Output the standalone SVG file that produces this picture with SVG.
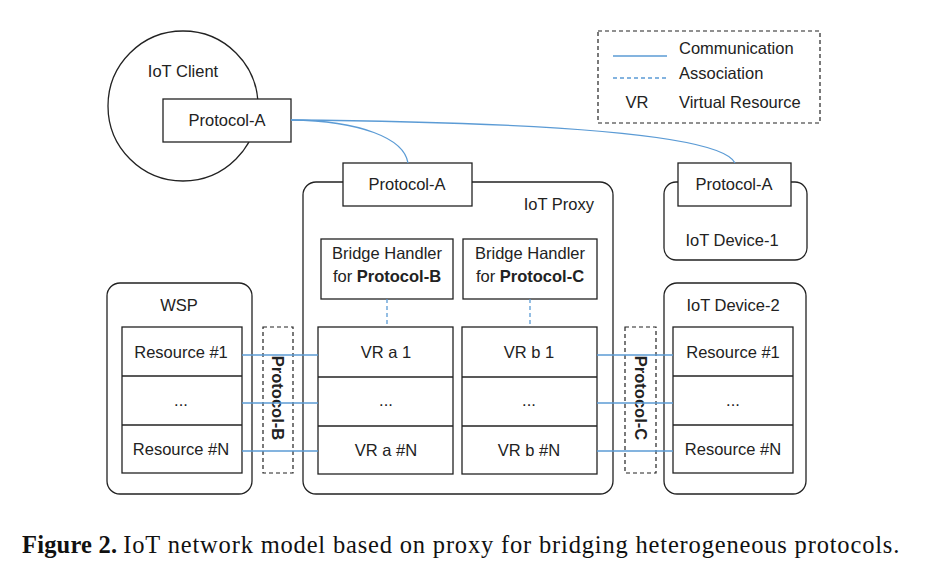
<svg xmlns="http://www.w3.org/2000/svg" width="934" height="585" viewBox="0 0 934 585">
<style>
.t{font-family:"Liberation Sans",Arial,sans-serif;font-size:16.5px;fill:#222}
.c{text-anchor:middle}
.b{font-weight:bold}
.box{fill:#fff;stroke:#222;stroke-width:1.3}
.rr{fill:#fff;stroke:#222;stroke-width:1.3}
.dash{fill:none;stroke:#222;stroke-width:1.2;stroke-dasharray:4 3}
.comm{fill:none;stroke:#5b9bd5;stroke-width:1.3}
.assoc{fill:none;stroke:#5b9bd5;stroke-width:1.3;stroke-dasharray:4 3}
.cap{font-family:"Liberation Serif","Times New Roman",serif;font-size:24.5px;fill:#111}
</style>
<rect width="934" height="585" fill="#fff"/>

<g id="legend">
<rect x="598" y="31" width="222" height="92" class="dash"/>
<line x1="613" y1="56" x2="667" y2="56" class="comm"/>
<line x1="613" y1="78" x2="667" y2="78" class="assoc"/>
<text x="679" y="54" class="t">Communication</text>
<text x="679" y="79" class="t">Association</text>
<text x="637" y="108" class="t c">VR</text>
<text x="679" y="108" class="t">Virtual Resource</text>
</g>

<g id="iot-client">
<circle cx="183" cy="106" r="75" fill="#fff" stroke="#222" stroke-width="1.3"/>
<text x="183" y="77" class="t c">IoT Client</text>
<rect x="163" y="99" width="128" height="43" class="box"/>
<text x="227" y="126" class="t c">Protocol-A</text>
</g>

<g id="iot-proxy">
<rect x="303" y="182" width="310" height="312" rx="13" class="rr"/>
<rect x="343" y="163" width="129" height="43" class="box"/>
<text x="407" y="190" class="t c">Protocol-A</text>
<text x="594" y="210" class="t" text-anchor="end">IoT Proxy</text>
<rect x="321" y="239" width="132" height="60" class="box"/>
<text x="387" y="259" class="t c">Bridge Handler</text>
<text x="387" y="282" class="t c">for <tspan class="b">Protocol-B</tspan></text>
<rect x="463" y="239" width="134" height="60" class="box"/>
<text x="530" y="259" class="t c">Bridge Handler</text>
<text x="530" y="282" class="t c">for <tspan class="b">Protocol-C</tspan></text>
<rect x="318" y="327" width="135" height="147" class="box"/>
<line x1="318" y1="377" x2="453" y2="377" stroke="#222" stroke-width="1.3"/>
<line x1="318" y1="426" x2="453" y2="426" stroke="#222" stroke-width="1.3"/>
<text x="386" y="358" class="t c">VR a 1</text>
<text x="386" y="406" class="t c" font-size="11">...</text>
<text x="386" y="456" class="t c">VR a #N</text>
<rect x="462" y="327" width="135" height="147" class="box"/>
<line x1="462" y1="377" x2="597" y2="377" stroke="#222" stroke-width="1.3"/>
<line x1="462" y1="426" x2="597" y2="426" stroke="#222" stroke-width="1.3"/>
<text x="529" y="358" class="t c">VR b 1</text>
<text x="529" y="406" class="t c" font-size="11">...</text>
<text x="529" y="456" class="t c">VR b #N</text>
</g>

<g id="iot-device-1">
<rect x="664" y="182" width="143" height="78" rx="12" class="rr"/>
<rect x="678" y="163" width="113" height="43" class="box"/>
<text x="734" y="190" class="t c">Protocol-A</text>
<text x="732" y="246" class="t c">IoT Device-1</text>
</g>

<g id="wsp">
<rect x="107" y="283" width="145" height="211" rx="13" class="rr"/>
<text x="179" y="311" class="t c">WSP</text>
<rect x="122" y="327" width="120" height="146" class="box"/>
<line x1="122" y1="376" x2="242" y2="376" stroke="#222" stroke-width="1.3"/>
<line x1="122" y1="425" x2="242" y2="425" stroke="#222" stroke-width="1.3"/>
<text x="181" y="358" class="t c">Resource #1</text>
<text x="181" y="406" class="t c" font-size="11">...</text>
<text x="181" y="455" class="t c">Resource #N</text>
</g>

<g id="protocol-b">
<rect x="263" y="327" width="30" height="146" class="dash"/>
<text transform="translate(278,398) rotate(90)" y="6" class="t c b">Protocol-B</text>
</g>

<g id="iot-device-2">
<rect x="664" y="283" width="142" height="211" rx="13" class="rr"/>
<text x="733" y="311" class="t c">IoT Device-2</text>
<rect x="673" y="327" width="120" height="146" class="box"/>
<line x1="673" y1="376" x2="793" y2="376" stroke="#222" stroke-width="1.3"/>
<line x1="673" y1="425" x2="793" y2="425" stroke="#222" stroke-width="1.3"/>
<text x="733" y="358" class="t c">Resource #1</text>
<text x="733" y="406" class="t c" font-size="11">...</text>
<text x="733" y="455" class="t c">Resource #N</text>
</g>

<g id="protocol-c">
<rect x="625" y="327" width="31" height="146" class="dash"/>
<text transform="translate(641,398) rotate(90)" y="6" class="t c b">Protocol-C</text>
</g>

<g id="connectors">
<path d="M291,120 C360,121 404,138 408,163" class="comm"/>
<path d="M291,120 C520,122 720,132 735,163" class="comm"/>
<line x1="387" y1="299" x2="387" y2="327" class="assoc"/>
<line x1="530" y1="299" x2="530" y2="327" class="assoc"/>
<line x1="242" y1="355" x2="318" y2="355" class="comm"/>
<line x1="242" y1="403" x2="318" y2="403" class="comm"/>
<line x1="242" y1="451" x2="318" y2="451" class="comm"/>
<line x1="597" y1="355" x2="673" y2="355" class="comm"/>
<line x1="597" y1="403" x2="673" y2="403" class="comm"/>
<line x1="597" y1="451" x2="673" y2="451" class="comm"/>
</g>

<text x="22" y="553" class="cap"><tspan font-weight="bold" textLength="95">Figure 2.</tspan> <tspan textLength="776">IoT network model based on proxy for bridging heterogeneous protocols.</tspan></text>
</svg>
